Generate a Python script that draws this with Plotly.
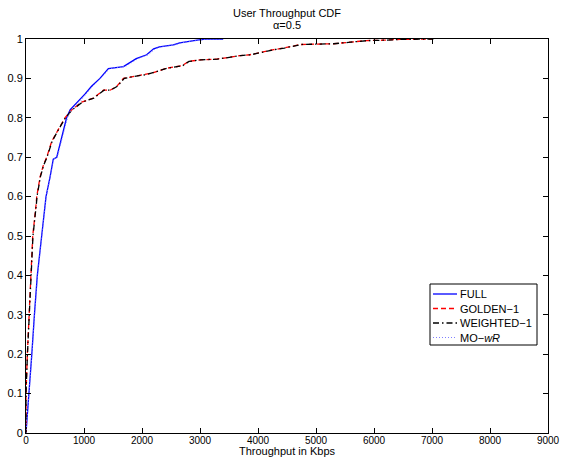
import plotly.graph_objects as go

# ---- data (Throughput in Kbps vs CDF) ----
full_x = [0, 55, 100, 145, 195, 270, 330, 345, 415, 455, 470, 530, 615, 700, 760, 825, 900,
          1015, 1130, 1275, 1420, 1530, 1680, 1790, 1900, 2080, 2200, 2300, 2540, 2650, 2830,
          2950, 3100, 3400]
full_y = [0, 0.1, 0.2, 0.3, 0.4, 0.5, 0.57, 0.6, 0.65, 0.69, 0.695, 0.70, 0.75, 0.80, 0.82,
          0.83, 0.84, 0.86, 0.88, 0.90, 0.925, 0.927, 0.93, 0.94, 0.95, 0.96, 0.975, 0.98,
          0.985, 0.99, 0.995, 0.997, 1.0, 1.0]

golden_x = [0, 0, 23, 57, 87, 116, 174, 185, 243, 300, 357, 443, 557, 672, 787, 960, 1160,
            1250, 1335, 1450, 1565, 1680, 1850, 2080, 2180, 2260, 2430, 2690, 2800, 3000,
            3290, 3520, 3690, 3860, 4040, 4270, 4440, 4730, 5010, 5300, 5590, 5870, 6160,
            6450, 7000]
golden_y = [0, 0.1, 0.2, 0.3, 0.4, 0.5, 0.58, 0.6, 0.65, 0.68, 0.70, 0.74, 0.77, 0.80, 0.82,
            0.84, 0.85, 0.86, 0.87, 0.87, 0.88, 0.90, 0.905, 0.91, 0.914, 0.918, 0.926, 0.932,
            0.943, 0.947, 0.949, 0.954, 0.958, 0.960, 0.966, 0.973, 0.977, 0.986, 0.987,
            0.988, 0.992, 0.996, 0.997, 0.999, 1.0]

weighted_x = [0, 0, 25, 60, 90, 120, 178, 190, 248, 305, 362, 450, 560, 680, 795, 975, 1170,
              1260, 1345, 1460, 1575, 1695, 1860, 2090, 2190, 2275, 2440, 2700, 2810, 3010,
              3300, 3530, 3700, 3875, 4050, 4280, 4455, 4745, 5020, 5310, 5600, 5890, 6180,
              6470, 7050]
weighted_y = [0, 0.1, 0.2, 0.3, 0.4, 0.5, 0.58, 0.6, 0.65, 0.68, 0.70, 0.74, 0.77, 0.80, 0.82,
              0.84, 0.85, 0.86, 0.87, 0.87, 0.88, 0.90, 0.905, 0.91, 0.914, 0.918, 0.926, 0.932,
              0.943, 0.947, 0.949, 0.954, 0.958, 0.960, 0.966, 0.973, 0.977, 0.986, 0.987,
              0.988, 0.992, 0.996, 0.997, 0.999, 1.0]

mowr_x = [0, 58, 104, 150, 200, 275, 335, 350, 420, 462, 478, 540, 625, 715, 780, 850, 925,
          1035, 1150, 1290, 1440, 1560, 1710, 1820, 1930, 2110, 2230, 2330, 2570, 2680, 2860,
          2980, 3130, 3350]
mowr_y = full_y[:]

x_ticks = [0, 1000, 2000, 3000, 4000, 5000, 6000, 7000, 8000, 9000]
y_ticks = [0, 0.1, 0.2, 0.3, 0.4, 0.5, 0.6, 0.7, 0.8, 0.9, 1]
y_tick_text = ["0", "0.1", "0.2", "0.3", "0.4", "0.5", "0.6", "0.7", "0.8", "0.9", "1"]

series_names = ["FULL", "GOLDEN\u22121", "WEIGHTED\u22121", "MO\u2212<i>wR</i>"]
series_colors = ["#0000ff", "#ff0000", "#000000", "#7f7fff"]
series_dash = ["solid", "5px,3px", "6px,3px,1.5px,3px", "1px,2px"]
series_width = [1.3, 1.3, 1.3, 1.0]
series_x = [full_x, golden_x, weighted_x, mowr_x]
series_y = [full_y, golden_y, weighted_y, mowr_y]

FONT = "Liberation Sans, Arial, Helvetica, sans-serif"
W, H = 562, 459
ML, MR, MT, MB = 26, 14, 39, 26
PW, PH = W - ML - MR, H - MT - MB


def px_x(p):
    return (p - ML) / PW


def px_y(p):
    return (H - MB - p) / PH


fig = go.Figure()
for name, xs, ys, c, d, w in zip(series_names, series_x, series_y, series_colors,
                                 series_dash, series_width):
    fig.add_trace(go.Scatter(x=xs, y=ys, mode="lines", name=name, showlegend=False,
                             line=dict(color=c, width=w, dash=d)))

axis_common = dict(showline=True, linecolor="black", linewidth=1, mirror="ticks",
                   ticks="inside", ticklen=5, tickcolor="black", showgrid=False,
                   zeroline=False, automargin=False)

fig.update_xaxes(range=[0, 9000], tickvals=x_ticks, ticklabelstandoff=-2,
                 tickfont=dict(family=FONT, size=10, color="black"), **axis_common)
fig.update_yaxes(range=[0, 1], tickvals=y_ticks, ticktext=y_tick_text,
                 tickfont=dict(family=FONT, size=11, color="black"), **axis_common)

shapes = []
annotations = [
    dict(text="User Throughput CDF", x=0.5, y=px_y(13), xref="paper", yref="paper",
         showarrow=False, yanchor="middle", font=dict(size=11)),
    dict(text="\u03b1=0.5", x=0.5, y=px_y(25), xref="paper", yref="paper",
         showarrow=False, yanchor="middle", font=dict(size=11)),
    dict(text="Throughput in Kbps", x=0.5, y=px_y(459), xref="paper", yref="paper",
         showarrow=False, yanchor="bottom", font=dict(size=11)),
]

# manual legend box (MATLAB-like compact legend)
box_l, box_r, box_t, box_b = 430, 537, 284, 345
shapes.append(dict(type="rect", xref="paper", yref="paper",
                   x0=px_x(box_l), x1=px_x(box_r), y0=px_y(box_b), y1=px_y(box_t),
                   line=dict(color="black", width=1), fillcolor="white", layer="above"))
row_y = [294, 308.5, 323, 337.5]
for name, c, d, w, ry in zip(series_names, series_colors, series_dash, series_width, row_y):
    shapes.append(dict(type="line", xref="paper", yref="paper",
                       x0=px_x(433), x1=px_x(457), y0=px_y(ry), y1=px_y(ry),
                       line=dict(color=c, width=w, dash=d), layer="above"))
    annotations.append(dict(text=name, x=px_x(457.5), y=px_y(ry), xref="paper", yref="paper",
                            xanchor="left", yanchor="middle", showarrow=False,
                            font=dict(size=11)))

fig.update_layout(
    width=W, height=H,
    margin=dict(l=ML, r=MR, t=MT, b=MB),
    paper_bgcolor="white", plot_bgcolor="white",
    font=dict(family=FONT, size=11, color="black"),
    showlegend=False,
    shapes=shapes,
    annotations=annotations,
)

fig.write_html("out.html", config={"displayModeBar": False},
               post_script="document.body.style.margin='0';document.body.style.overflow='hidden';")
